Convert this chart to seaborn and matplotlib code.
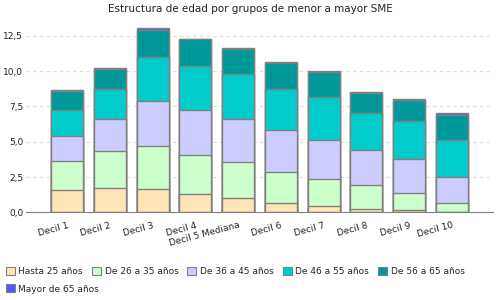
import numpy as np
import pandas as pd
import matplotlib
matplotlib.use("Agg")
import matplotlib.pyplot as plt
import seaborn as sns
from matplotlib.patches import Patch
from matplotlib.ticker import FuncFormatter

# Deciles and age group shares
deciles = ['Decil 1', 'Decil 2', 'Decil 3', 'Decil 4', 'Decil 5 Mediana',
           'Decil 6', 'Decil 7', 'Decil 8', 'Decil 9', 'Decil 10']
groups = ['Hasta 25 años', 'De 26 a 35 años', 'De 36 a 45 años',
          'De 46 a 55 años', 'De 56 a 65 años', 'Mayor de 65 años']

hasta25 = [1.56, 1.70, 1.63, 1.30, 0.99, 0.64, 0.42, 0.21, 0.14, 0.00]
de26_35 = [2.05, 2.62, 3.04, 2.74, 2.55, 2.19, 1.91, 1.70, 1.20, 0.64]
de36_45 = [1.77, 2.26, 3.18, 3.18, 3.04, 2.97, 2.76, 2.48, 2.41, 1.84]
de46_55 = [1.84, 2.17, 3.11, 3.11, 3.21, 2.95, 3.04, 2.62, 2.71, 2.62]
de56_65 = [1.37, 1.42, 1.98, 1.91, 1.79, 1.82, 1.82, 1.46, 1.51, 1.77]
mayor65 = [0.05, 0.07, 0.08, 0.03, 0.02, 0.08, 0.02, 0.02, 0.07, 0.14]

colors = ['#FFE4B5', '#CCFFCC', '#CCCCFF', '#00CCCC', '#009999', '#5555FF']

sns.set_style("white")
plt.rcParams['font.family'] = ['DejaVu Sans']

df = pd.DataFrame(dict(zip(groups, [hasta25, de26_35, de36_45, de46_55, de56_65, mayor65])),
                  index=deciles)
cum = df.cumsum(axis=1)

fig = plt.figure(figsize=(5, 3), dpi=100)
ax = fig.add_axes([0.052, 0.292, 0.934, 0.636])

# stacked bars: draw the cumulative totals from top segment down
for i in range(len(groups) - 1, -1, -1):
    sns.barplot(x=deciles, y=cum[groups[i]].values, color=colors[i], saturation=1,
                edgecolor='#808080', linewidth=1, width=0.75, ax=ax)

ax.set_xlim(-0.96, 9.96)
ax.set_ylim(0, 13.5)
ax.set_yticks([0, 2.5, 5, 7.5, 10, 12.5])
ax.yaxis.set_major_formatter(FuncFormatter(lambda v, p: f"{v:.1f}".replace('.', ',')))
ax.yaxis.grid(True, linestyle=(0, (3, 3)), color='#dddddd', linewidth=0.8)
ax.set_axisbelow(True)
for s in ['top', 'right', 'left']:
    ax.spines[s].set_visible(False)
ax.spines['bottom'].set_color('#808080')
ax.tick_params(axis='both', length=0, labelsize=6.5, colors='#222222', pad=2)
plt.setp(ax.get_xticklabels(), rotation=15, ha='right', rotation_mode='anchor')
ax.tick_params(axis='x', pad=6)
ax.set_xlabel('')
ax.set_ylabel('')

fig.suptitle('Estructura de edad por grupos de menor a mayor SME', fontsize=7.5,
             y=0.985, color='#222222')

handles = [Patch(facecolor=c, edgecolor='#808080', linewidth=0.8) for c in colors]
leg1 = fig.legend(handles[:5], groups[:5], loc='upper left', bbox_to_anchor=(0.008, 0.115),
                  ncol=5, frameon=False, fontsize=6.5, handlelength=1.0, handleheight=1.0,
                  handletextpad=0.4, columnspacing=1.0, borderpad=0.2, borderaxespad=0)
leg2 = fig.legend(handles[5:], groups[5:], loc='upper left', bbox_to_anchor=(0.008, 0.058),
                  ncol=1, frameon=False, fontsize=6.5, handlelength=1.0, handleheight=1.0,
                  handletextpad=0.4, borderpad=0.2, borderaxespad=0)

fig.savefig('out.png', dpi=100)
